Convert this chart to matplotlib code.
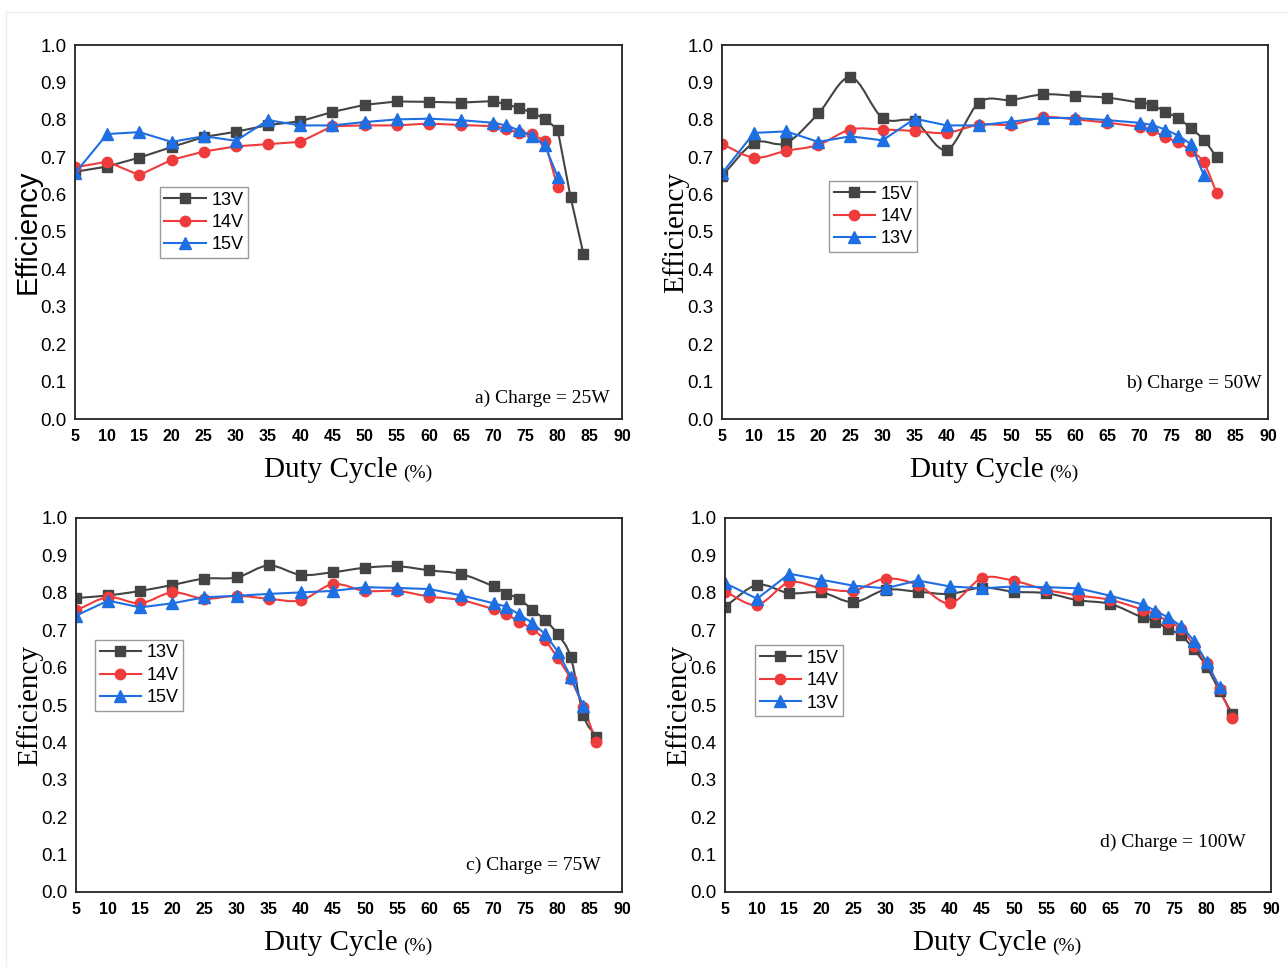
import matplotlib
matplotlib.use('Agg')
import matplotlib.pyplot as plt
import numpy as np
from matplotlib.path import Path
from matplotlib.patches import PathPatch
from matplotlib.lines import Line2D

# duty cycle (%) points
x_main = [5, 10, 15, 20, 25, 30, 35, 40, 45, 50, 55, 60, 65, 70]
x_to80 = x_main + [72, 74, 76, 78, 80]
x_to82 = x_to80 + [82]
x_to84 = x_to82 + [84]
x_to86 = x_to84 + [86]

# a) Charge = 25W
a_13v = [0.661, 0.675, 0.699, 0.727, 0.754, 0.768, 0.786, 0.796, 0.821, 0.840, 0.849, 0.848, 0.846, 0.850,
         0.841, 0.832, 0.819, 0.803, 0.774, 0.594, 0.442]
a_14v = [0.673, 0.688, 0.652, 0.693, 0.715, 0.729, 0.735, 0.741, 0.783, 0.785, 0.785, 0.790, 0.786, 0.783,
         0.776, 0.765, 0.761, 0.744, 0.619]
a_15v = [0.657, 0.762, 0.767, 0.741, 0.756, 0.744, 0.799, 0.785, 0.785, 0.794, 0.801, 0.803, 0.799, 0.792,
         0.785, 0.772, 0.758, 0.732, 0.648]

# b) Charge = 50W
b_15v = [0.650, 0.738, 0.738, 0.817, 0.914, 0.805, 0.796, 0.720, 0.846, 0.853, 0.868, 0.864, 0.859, 0.846,
         0.840, 0.821, 0.805, 0.777, 0.747, 0.700]
b_14v = [0.735, 0.699, 0.717, 0.733, 0.774, 0.774, 0.770, 0.765, 0.787, 0.787, 0.807, 0.801, 0.792, 0.781,
         0.772, 0.753, 0.740, 0.717, 0.686, 0.605]
b_13v = [0.657, 0.765, 0.769, 0.741, 0.756, 0.745, 0.803, 0.785, 0.785, 0.795, 0.805, 0.805, 0.799, 0.792,
         0.786, 0.774, 0.758, 0.735, 0.652]

# c) Charge = 75W
c_13v = [0.786, 0.793, 0.805, 0.821, 0.838, 0.841, 0.873, 0.848, 0.855, 0.867, 0.871, 0.860, 0.850, 0.817,
         0.798, 0.784, 0.755, 0.728, 0.689, 0.629, 0.472, 0.415]
c_14v = [0.753, 0.788, 0.772, 0.801, 0.784, 0.792, 0.784, 0.780, 0.823, 0.805, 0.805, 0.790, 0.780, 0.756,
         0.742, 0.723, 0.703, 0.674, 0.625, 0.570, 0.494, 0.400]
c_15v = [0.739, 0.779, 0.761, 0.772, 0.788, 0.792, 0.797, 0.801, 0.805, 0.815, 0.813, 0.810, 0.793, 0.772,
         0.763, 0.742, 0.720, 0.690, 0.643, 0.576, 0.497]

# d) Charge = 100W
d_15v = [0.763, 0.821, 0.799, 0.801, 0.775, 0.808, 0.803, 0.797, 0.814, 0.803, 0.799, 0.780, 0.770, 0.734,
         0.723, 0.703, 0.686, 0.649, 0.602, 0.537, 0.475]
d_14v = [0.803, 0.768, 0.828, 0.812, 0.806, 0.838, 0.821, 0.772, 0.839, 0.832, 0.808, 0.793, 0.781, 0.755,
         0.742, 0.723, 0.703, 0.659, 0.611, 0.544, 0.464]
d_13v = [0.826, 0.784, 0.851, 0.835, 0.819, 0.812, 0.833, 0.817, 0.812, 0.817, 0.815, 0.812, 0.792, 0.769,
         0.752, 0.734, 0.711, 0.672, 0.614, 0.547]

x_ticks = list(range(5, 95, 5))
y_ticks = [0.0, 0.1, 0.2, 0.3, 0.4, 0.5, 0.6, 0.7, 0.8, 0.9, 1.0]

BLACK = '#444444'
RED = '#ef3b3b'
BLUE = '#1e6fe3'
SANS = 'Liberation Sans'
SERIF = 'Liberation Serif'


def spline_path(x, y):
    # cardinal spline through the measured points (like Origin's "spline" connect)
    x = np.asarray(x, float)
    y = np.asarray(y, float)
    m = np.zeros_like(y)
    m[1:-1] = (y[2:] - y[:-2]) / (x[2:] - x[:-2])
    m[0] = (y[1] - y[0]) / (x[1] - x[0])
    m[-1] = (y[-1] - y[-2]) / (x[-1] - x[-2])
    verts = [(x[0], y[0])]
    codes = [Path.MOVETO]
    for i in range(len(x) - 1):
        dx = x[i + 1] - x[i]
        verts += [(x[i] + dx / 3, y[i] + m[i] * dx / 3),
                  (x[i + 1] - dx / 3, y[i + 1] - m[i + 1] * dx / 3),
                  (x[i + 1], y[i + 1])]
        codes += [Path.CURVE4] * 3
    return Path(verts, codes)


# (rect, series, legend pos, note, note pos, sans ylabel)
panels = [
    ([75, 419, 622, 45],
     [(x_to84, a_13v, '13V', BLACK, 's', False),
      (x_to80, a_14v, '14V', RED, 'o', False),
      (x_to80, a_15v, '15V', BLUE, '^', False)],
     (0.155, 0.620), 'a) Charge = 25W', (0.978, 0.056), True),
    ([722, 419, 1268, 45],
     [(x_to82, b_15v, '15V', BLACK, 's', True),
      (x_to82, b_14v, '14V', RED, 'o', True),
      (x_to80, b_13v, '13V', BLUE, '^', False)],
     (0.196, 0.636), 'b) Charge = 50W', (0.989, 0.096), False),
    ([76, 892, 622, 518],
     [(x_to86, c_13v, '13V', BLACK, 's', True),
      (x_to86, c_14v, '14V', RED, 'o', True),
      (x_to84, c_15v, '15V', BLUE, '^', False)],
     (0.035, 0.674), 'c) Charge = 75W', (0.960, 0.072), False),
    ([725, 892, 1271, 518],
     [(x_to84, d_15v, '15V', BLACK, 's', True),
      (x_to84, d_14v, '14V', RED, 'o', True),
      (x_to82, d_13v, '13V', BLUE, '^', False)],
     (0.055, 0.660), 'd) Charge = 100W', (0.954, 0.134), False),
]

W, H = 1287, 967
fig = plt.figure(figsize=(W / 100, H / 100), dpi=100)

# faint frame around the figure
fig.add_artist(Line2D([6 / W, 1], [1 - 12 / H, 1 - 12 / H], color='#ececec', lw=1))
fig.add_artist(Line2D([6 / W, 6 / W], [0, 1 - 12 / H], color='#ececec', lw=1))

for rect, series, leg_pos, note, note_pos, sans_label in panels:
    l, b, r, t = rect
    ax = fig.add_axes([l / W, 1 - b / H, (r - l) / W, (b - t) / H])
    handles = []
    for xs, ys, lab, col, mk, smooth in series:
        ms = 8.5 if mk == '^' else 7.5 if mk == 'o' else 7
        if smooth:
            ax.add_patch(PathPatch(spline_path(xs, ys), fill=False, edgecolor=col, lw=1.5))
            ax.plot(xs, ys, ls='none', marker=mk, color=col, ms=ms, mec=col)
        else:
            ax.plot(xs, ys, ls='-', lw=1.5, marker=mk, color=col, ms=ms, mec=col)
        handles.append(Line2D([], [], color=col, lw=1.5, marker=mk, ms=ms, label=lab))

    ax.set_xlim(5, 90)
    ax.set_ylim(0, 1.0)
    ax.set_xticks(x_ticks)
    ax.set_yticks(y_ticks)
    ax.set_xticklabels([str(v) for v in x_ticks], fontfamily=SANS, fontweight='bold', fontsize=11.5)
    ax.set_yticklabels(['%.1f' % v for v in y_ticks], fontfamily=SANS, fontsize=13.5)
    ax.tick_params(length=0, pad=6)
    ax.tick_params(axis='x', pad=7)
    for sp in ax.spines.values():
        sp.set_linewidth(1.3)
        sp.set_color('#222222')

    leg = ax.legend(handles=handles, loc='upper left', bbox_to_anchor=leg_pos, borderaxespad=0,
                    fancybox=False, framealpha=1, edgecolor='#9a9a9a', handlelength=2.3,
                    handletextpad=0.3, borderpad=0.25, labelspacing=0.3,
                    prop={'family': SANS, 'size': 13})
    leg.get_frame().set_linewidth(1)

    ax.text(note_pos[0], note_pos[1], note, transform=ax.transAxes, ha='right', va='center',
            fontfamily=SERIF, fontsize=14)

    if sans_label:
        ax.text(-47 / (r - l), 0.5, 'Efficiency', transform=ax.transAxes, rotation=90,
                ha='center', va='center', fontfamily=SANS, fontsize=21)
    else:
        ax.text(-46 / (r - l), 0.5, 'Efficiency', transform=ax.transAxes, rotation=90,
                ha='center', va='center', fontfamily=SERIF, fontsize=21)

    xl = ax.text(0.5 - 18 / (r - l), -51 / (b - t), 'Duty Cycle', transform=ax.transAxes,
                 ha='center', va='center', fontfamily=SERIF, fontsize=21)
    ax.annotate('(%)', xy=(1, 0), xycoords=xl, xytext=(4, 1), textcoords='offset points',
                ha='left', va='bottom', fontfamily=SERIF, fontsize=14)

fig.savefig('out.png', dpi=100)
